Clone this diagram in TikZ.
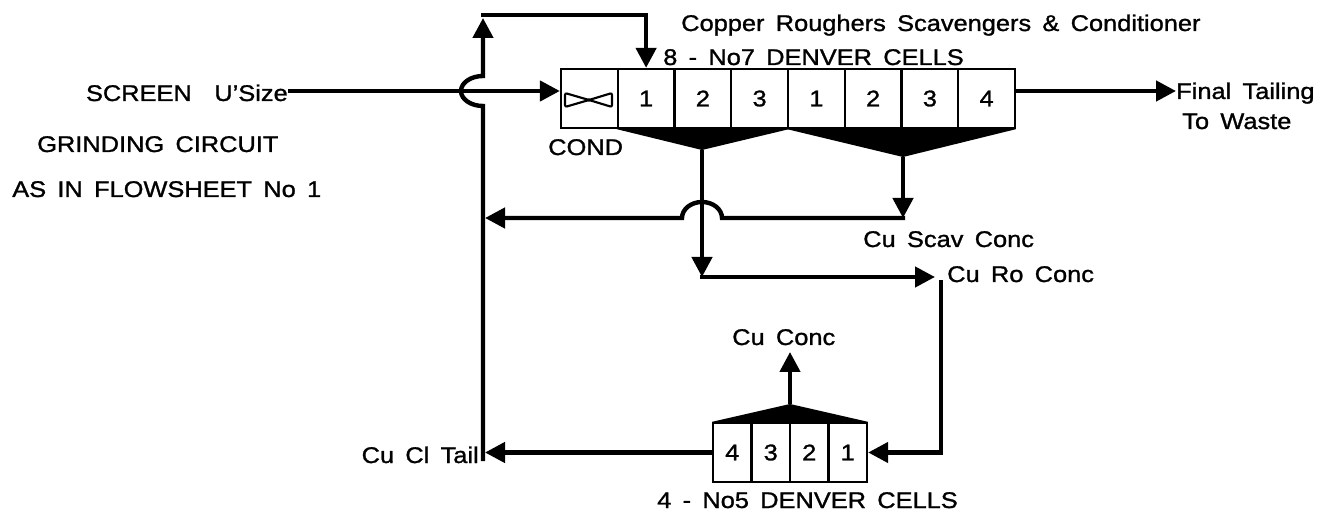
\documentclass[tikz,border=0pt]{standalone}
\usepackage{fontspec}
\setmainfont{Liberation Sans}[FakeStretch=1.12,WordSpace=1.6,FakeBold=1.2]
\usetikzlibrary{arrows.meta,calc}
\newcommand\dfont{\fontsize{17}{20}\selectfont}
\begin{document}
\begin{tikzpicture}[x=0.75pt,y=-0.75pt,
  flow/.style={line width=3.3pt},
  arr/.style={line width=3.3pt,-{Triangle[length=15pt,width=15pt]}},
  cell/.style={draw,line width=1.7pt,minimum width=42.56pt,minimum height=44.25pt,inner sep=0pt,font=\dfont},
  scell/.style={cell,minimum width=28.9pt},
  lbl/.style={inner sep=0pt,font=\dfont}]
\useasboundingbox (0,0) rectangle (1331,516);
% --- main bank of cells
\node[cell] (cond) at (589.4,98.5) {};
\node[cell] (ra) at (646.1,98.5) {1};
\node[cell] (rb) at (702.9,98.5) {2};
\node[cell] (rc) at (759.6,98.5) {3};
\node[cell] (sa) at (816.4,98.5) {1};
\node[cell] (sb) at (873.1,98.5) {2};
\node[cell] (sc) at (929.9,98.5) {3};
\node[cell] (sd) at (986.6,98.5) {4};
\coordinate (bt) at (589,100);
\draw[line width=1.6pt,rounded corners=1.5pt] ($(bt)+(-24,-7)$) -- (bt) -- ($(bt)+(23,-7)$) -- ($(bt)+(23,7)$) -- (bt) -- ($(bt)+(-24,7)$) -- cycle;
% hoppers
\coordinate (h1) at (702,150);
\coordinate (h2) at (903,157);
\fill (ra.south west) -- (rc.south east) -- (h1) -- cycle;
\fill (sa.south west) -- (sd.south east) -- (h2) -- cycle;
% --- cleaner cells
\node[scell] (k4) at (732.25,452.5) {4};
\node[scell] (k3) at (770.75,452.5) {3};
\node[scell] (k2) at (809.25,452.5) {2};
\node[scell] (k1) at (847.75,452.5) {1};
\coordinate (h3) at (790,404);
\fill (k4.north west) -- (k1.north east) -- (h3) -- cycle;
% --- labels
\node[lbl,anchor=base west] (title) at (681,31) {Copper Roughers Scavengers \& Conditioner};
\node[lbl,anchor=base west] (bank) at (663,65) {8 - No7 DENVER CELLS};
\node[lbl,anchor=base west] (condl) at (548,155) {COND};
\node[lbl,anchor=base east] (screen) at (288,101) {SCREEN \ U'Size};
\node[lbl,anchor=base west] (grind) at (37,152) {GRINDING CIRCUIT};
\node[lbl,anchor=base west] (asin) at (12,197) {AS IN FLOWSHEET No 1};
\node[lbl,anchor=base west] (fin1) at (1176,99) {Final Tailing};
\node[lbl,anchor=base west] (fin2) at (1182,129) {To Waste};
\node[lbl,anchor=base west] (scav) at (863,247) {Cu Scav Conc};
\node[lbl,anchor=base west] (ro) at (947,282) {Cu Ro Conc};
\node[lbl,anchor=base west] (cucon) at (732,345) {Cu Conc};
\node[lbl,anchor=base east] (tail) at (479,463) {Cu Cl Tail};
\node[lbl,anchor=base west] (bank2) at (657,508) {4 - No5 DENVER CELLS};
% --- connectors
\coordinate (feedy) at (0,91);
\coordinate (vb) at (483,461);
\coordinate (vt) at (483,15);
\coordinate (xa) at (vb |- feedy);
\draw[arr] (screen.east |- feedy) -- (cond.west |- feedy);
\draw[arr] (sd.east |- feedy) -- (fin1.west |- feedy);
% recycle riser with jump over the feed
\draw[arr] (vb) -- ($(xa)+(0,15)$) arc[start angle=90,end angle=270,x radius=22,y radius=15] -- ($(vt)+(0,3)$);
\draw[arr] ($(vt)+(-2,0)$) -- (ra.north |- vt) -- (ra.north);
% rougher concentrate
\coordinate (c1) at (h1 |- 0,277);
\coordinate (rv) at (941,277);
\draw[arr] (h1) -- (c1);
\draw[arr] ($(c1)+(-2,0)$) -- ($(rv)+(-6,0)$);
\draw[arr] ($(rv)+(0,3)$) -- (rv |- k1.east) -- (k1.east);
% scavenger concentrate with jump
\coordinate (c2) at (h2 |- 0,218);
\draw[arr] (h2) -- (c2);
\draw[arr] ($(c2)+(2,0)$) -- ($(c2 -| h1)+(20,0)$) arc[start angle=0,end angle=-180,x radius=20,y radius=16] -- ($(c2 -| vb)+(2,0)$);
% cleaner
\coordinate (cc) at (790,352);
\draw[arr] (h3) -- (cc);
\draw[arr] (k4.west) -- ($(k4.west -| vb)+(2,0)$);
\end{tikzpicture}
\end{document}
